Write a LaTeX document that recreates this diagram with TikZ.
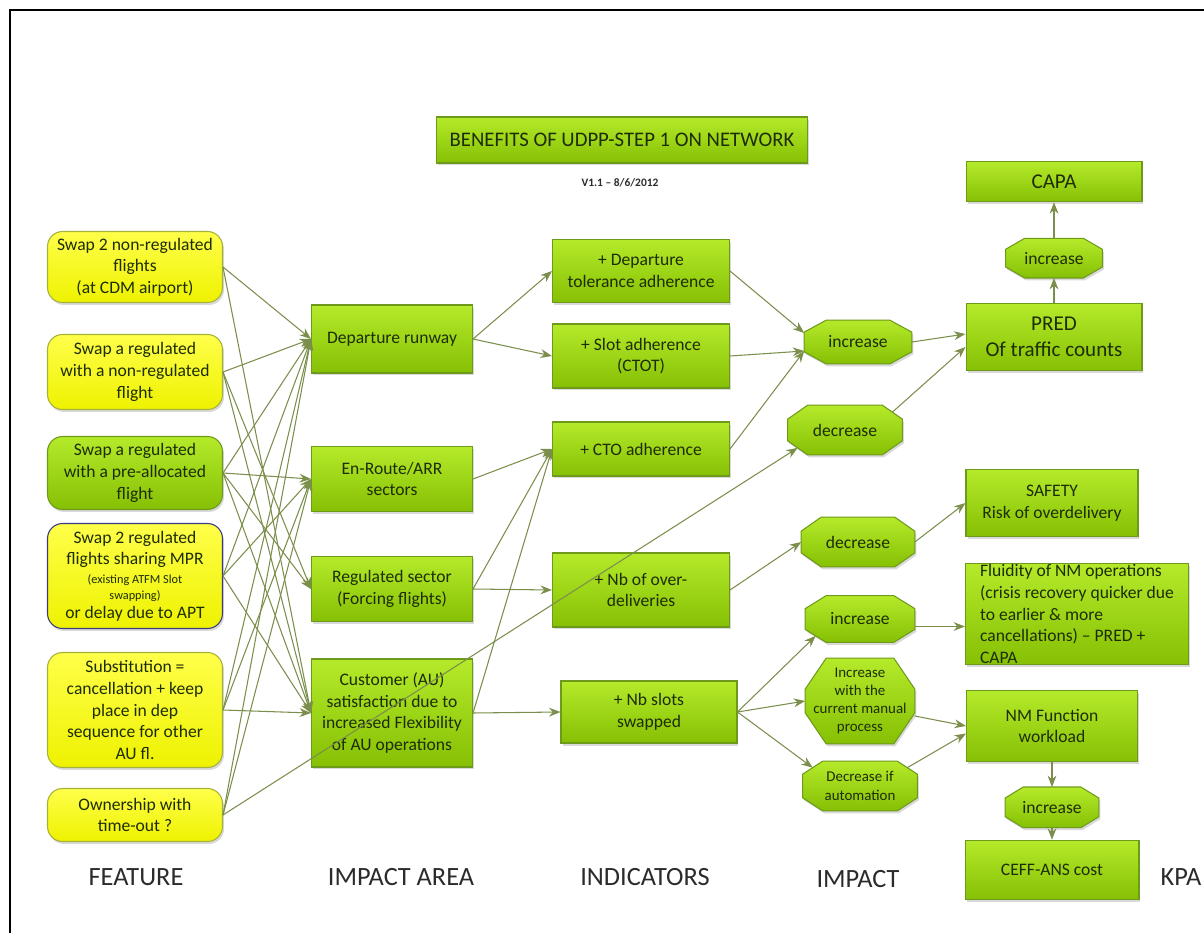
\documentclass[tikz,border=0pt]{standalone}
\usepackage{fontspec}
\setmainfont{Carlito}
\definecolor{LeafTop}{HTML}{B4EA2A}
\definecolor{LeafBottom}{HTML}{86C004}
\definecolor{LeafEdge}{HTML}{6E9A1C}
\definecolor{LemonTop}{HTML}{FFFF4A}
\definecolor{LemonBottom}{HTML}{EEF200}
\definecolor{LemonEdge}{HTML}{A4B23A}
\definecolor{NavyEdge}{HTML}{3B3B80}
\definecolor{LinkOlive}{HTML}{7B8E4C}
\definecolor{InkGreen}{HTML}{1E2D05}
\definecolor{LabelGrey}{HTML}{2B2B2B}
\usetikzlibrary{arrows.meta,positioning,shadows,backgrounds}

% octagon drawn behind a named node: name, corner cut x, corner cut y
\newcommand{\octofill}[3]{%
  \begin{pgfonlayer}{background}
    \draw[octoback] ([xshift=#2]#1.north west) -- ([xshift=-#2]#1.north east) -- ([yshift=-#3]#1.north east)
      -- ([yshift=#3]#1.south east) -- ([xshift=-#2]#1.south east) -- ([xshift=#2]#1.south west)
      -- ([yshift=#3]#1.south west) -- ([yshift=-#3]#1.north west) -- cycle;
  \end{pgfonlayer}}

\begin{document}
\begin{tikzpicture}[
  x=0.02cm, y=-0.02cm,
  box/.style={rectangle, draw=LeafEdge, line width=0.6pt, top color=LeafTop, bottom color=LeafBottom, text=InkGreen, align=center, inner sep=1pt, font=\fontsize{10}{12.3}\selectfont, drop shadow={shadow xshift=0.03cm, shadow yshift=-0.05cm, opacity=0.3}},
  featbox/.style={box, rounded corners=0.3cm, minimum width=3.5cm, draw=LemonEdge, top color=LemonTop, bottom color=LemonBottom},
  areabox/.style={box, minimum width=3.22cm},
  indbox/.style={box, minimum width=3.54cm},
  kpabox/.style={box, minimum width=3.52cm},
  octo/.style={rectangle, inner sep=0pt, text=InkGreen, align=center, font=\fontsize{10}{12.3}\selectfont},
  octoback/.style={draw=LeafEdge, line width=0.6pt, top color=LeafTop, bottom color=LeafBottom, drop shadow={shadow xshift=0.03cm, shadow yshift=-0.05cm, opacity=0.3}},
  arrow/.style={-{Stealth[length=6.5pt, width=5pt]}, draw=LinkOlive, line width=0.6pt},
  colname/.style={font=\fontsize{15}{15}\selectfont, text=LabelGrey}
]
  \useasboundingbox (0,0) rectangle (1204,933);
  \draw[line width=1.3pt] (10,933) -- (10,10) -- (1204,10);

  % title
  \node[box, minimum width=7.44cm, minimum height=0.92cm, font=\fontsize{11.8}{13}\selectfont] (title) at (622,140) {BENEFITS OF UDPP-STEP 1 ON NETWORK};
  \node[font=\fontsize{6.5}{7}\selectfont\bfseries, text=LabelGrey] (version) at (620,183) {V1.1 -- 8/6/2012};

  % features
  \node[featbox, minimum height=1.42cm] (swapnr) at (135,267) {Swap 2 non-regulated\\flights\\(at CDM airport)};
  \node[featbox, minimum height=1.5cm] (swapreg) at (135,372) {Swap a regulated\\with a non-regulated\\flight};
  \node[featbox, minimum height=1.46cm, draw=LeafEdge, top color=LeafTop, bottom color=LeafBottom] (swappre) at (135,473) {Swap a regulated\\with a pre-allocated\\flight};
  \node[featbox, minimum height=2.1cm, draw=NavyEdge] (swapmpr) at (135,576) {Swap 2 regulated\\flights sharing MPR\\[-1.5pt]{\fontsize{7}{8}\selectfont (existing ATFM Slot}\\[-3.3pt]{\fontsize{7}{8}\selectfont swapping)}\\[-1.5pt]or delay due to APT};
  \node[featbox, minimum height=2.3cm] (subst) at (135,710) {Substitution =\\cancellation + keep\\place in dep\\sequence for other\\AU fl.};
  \node[featbox, minimum height=1.06cm] (owner) at (135,815) {Ownership with\\time-out ?};

  % impact areas
  \node[areabox, minimum height=1.36cm] (runway) at (392,339) {Departure runway};
  \node[areabox, minimum height=1.3cm] (enroute) at (392,479) {En-Route/ARR\\sectors};
  \node[areabox, minimum height=1.3cm] (regsec) at (392,589) {Regulated sector\\(Forcing flights)};
  \node[areabox, minimum height=2.16cm] (custsat) at (392,713) {Customer (AU)\\satisfaction due to\\increased Flexibility\\of AU operations};

  % indicators
  \node[indbox, minimum height=1.26cm] (deptol) at (641,271) {+ Departure\\tolerance adherence};
  \node[indbox, minimum height=1.28cm] (slotadh) at (641,356) {+ Slot adherence\\(CTOT)};
  \node[indbox, minimum height=1.08cm] (ctoadh) at (641,449) {+ CTO adherence};
  \node[indbox, minimum height=1.48cm] (overdel) at (641,590) {+ Nb of over-\\deliveries};
  \node[indbox, minimum width=3.52cm, minimum height=1.24cm] (nbswap) at (649,712) {+ Nb slots\\swapped};

  % impacts
  \node[octo, minimum width=2.14cm, minimum height=0.86cm] (incpred) at (858,342) {increase};
  \node[octo, minimum width=2.28cm, minimum height=0.98cm] (decpred) at (845,430) {decrease};
  \node[octo, minimum width=2.26cm, minimum height=0.98cm] (decsafe) at (858,542) {decrease};
  \node[octo, minimum width=2.18cm, minimum height=0.92cm] (incfluid) at (860,619) {increase};
  \node[octo, minimum width=2.18cm, minimum height=1.7cm, font=\fontsize{8.5}{10.3}\selectfont] (incmanual) at (860,701) {Increase\\with the\\current manual\\process};
  \node[octo, minimum width=2.28cm, minimum height=0.98cm, font=\fontsize{8.5}{11}\selectfont] (decauto) at (860,786) {Decrease if\\automation};
  \octofill{incpred}{0.44cm}{0.24cm}
  \octofill{decpred}{0.4cm}{0.28cm}
  \octofill{decsafe}{0.4cm}{0.28cm}
  \octofill{incfluid}{0.42cm}{0.26cm}
  \octofill{incmanual}{0.42cm}{0.62cm}
  \octofill{decauto}{0.4cm}{0.26cm}

  % KPA
  \node[kpabox, minimum height=1.34cm, font=\fontsize{12}{14.7}\selectfont] (pred) at (1054,337) {PRED\\Of traffic counts};
  \node[octo, minimum width=1.92cm, minimum height=0.78cm, above=0.5cm of pred] (inccapa) {increase};
  \node[kpabox, minimum height=0.8cm, font=\fontsize{12}{14}\selectfont, above=0.72cm of inccapa] (capa) {CAPA};
  \node[kpabox, minimum width=3.44cm, minimum height=1.34cm] (safety) at (1052,503) {SAFETY\\Risk of overdelivery};
  \node[kpabox, minimum width=4.46cm, minimum height=2.02cm, align=left, inner sep=0pt] (fluid) at (1077,614) {Fluidity of NM operations\\(crisis recovery quicker due\\to earlier \& more\\cancellations) -- PRED +\\CAPA};
  \node[kpabox, minimum width=3.42cm, minimum height=1.42cm] (nmwork) at (1052,726) {NM Function\\workload};
  \node[octo, minimum width=1.86cm, minimum height=0.8cm, below=0.5cm of nmwork] (inccost) {increase};
  \node[kpabox, minimum width=3.48cm, minimum height=1.18cm, below=0.24cm of inccost] (ceff) {CEFF-ANS cost};
  \octofill{inccapa}{0.38cm}{0.22cm}
  \octofill{inccost}{0.36cm}{0.22cm}

  % column names
  \node[colname] (lfeat) at (136,877) {FEATURE};
  \node[colname] (larea) at (401,877) {IMPACT AREA};
  \node[colname] (lind) at (645,877) {INDICATORS};
  \node[colname] (limp) at (858,879) {IMPACT};
  \node[colname] (lkpa) at (1181,877) {KPA};

  % feature -> impact area
  \draw[arrow] (swapnr.east) -- (runway.west);
  \draw[arrow] (swapnr.east) -- (custsat.west);
  \draw[arrow] (swapreg.east) -- (runway.west);
  \draw[arrow] (swapreg.east) -- (regsec.west);
  \draw[arrow] (swapreg.east) -- (custsat.west);
  \draw[arrow] (swappre.east) -- (runway.west);
  \draw[arrow] (swappre.east) -- (enroute.west);
  \draw[arrow] (swappre.east) -- (regsec.west);
  \draw[arrow] (swappre.east) -- (custsat.west);
  \draw[arrow] (swapmpr.east) -- (runway.west);
  \draw[arrow] (swapmpr.east) -- (enroute.west);
  \draw[arrow] (swapmpr.east) -- (custsat.west);
  \draw[arrow] (subst.east) -- (runway.west);
  \draw[arrow] (subst.east) -- (enroute.west);
  \draw[arrow] (subst.east) -- (custsat.west);
  \draw[arrow] (owner.east) -- (runway.west);
  \draw[arrow] (owner.east) -- (enroute.west);
  \draw[arrow] (owner.east) -- ([shift={(0.2cm,0.14cm)}]decpred.south west);

  % impact area -> indicators
  \draw[arrow] (runway.east) -- (deptol.west);
  \draw[arrow] (runway.east) -- (slotadh.west);
  \draw[arrow] (enroute.east) -- (ctoadh.west);
  \draw[arrow] (regsec.east) -- (ctoadh.west);
  \draw[arrow] (regsec.east) -- (overdel.west);
  \draw[arrow] (custsat.east) -- (ctoadh.west);
  \draw[arrow] (custsat.east) -- (nbswap.west);

  % indicators -> impacts -> KPA
  \draw[arrow] (deptol.east) -- ([yshift=0.18cm]incpred.west);
  \draw[arrow] (slotadh.east) -- ([yshift=-0.18cm]incpred.west);
  \draw[arrow] (ctoadh.east) -- ([yshift=-0.18cm]incpred.west);
  \draw[arrow] (incpred.east) -- ([yshift=0.06cm]pred.west);
  \draw[arrow] ([shift={(-0.2cm,-0.14cm)}]decpred.north east) -- ([yshift=-0.2cm]pred.west);
  \draw[arrow] (overdel.east) -- (decsafe.west);
  \draw[arrow] (decsafe.east) -- (safety.west);
  \draw[arrow] (nbswap.east) -- ([shift={(0.21cm,0.13cm)}]incfluid.south west);
  \draw[arrow] (nbswap.east) -- (incmanual.west);
  \draw[arrow] (nbswap.east) -- ([shift={(0.2cm,-0.13cm)}]decauto.north west);
  \draw[arrow] ([yshift=-0.15cm]incfluid.east) -- ([yshift=-0.15cm]incfluid.east -| fluid.west);
  \draw[arrow] ([yshift=-0.3cm]incmanual.east) -- (nmwork.west);
  \draw[arrow] ([shift={(-0.2cm,-0.13cm)}]decauto.north east) -- ([yshift=-0.15cm]nmwork.west);
  \draw[arrow] (pred) -- (inccapa);
  \draw[arrow] (inccapa) -- (capa);
  \draw[arrow] (nmwork) -- (inccost);
  \draw[arrow] (inccost) -- (ceff);
\end{tikzpicture}
\end{document}
